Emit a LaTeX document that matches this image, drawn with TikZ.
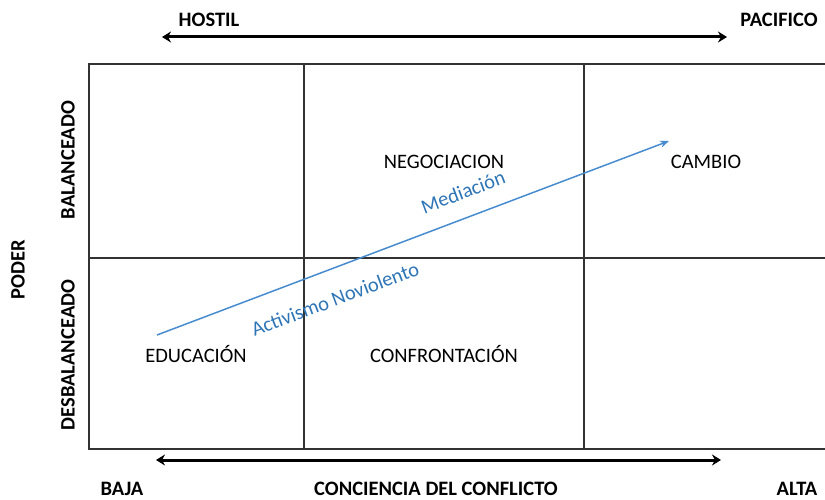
\documentclass[tikz,border=0pt]{standalone}
\usepackage{fontspec}
\setmainfont{Carlito}
\usetikzlibrary{arrows.meta}
\definecolor{bluearr}{RGB}{72,140,208}
\definecolor{bluetxt}{RGB}{46,117,182}
\definecolor{gridc}{RGB}{50,50,50}
\begin{document}
\begin{tikzpicture}[x=1pt,y=-1pt,
  gridline/.style={draw=gridc,line width=1.1pt},
  axisarrow/.style={line width=3pt,{Stealth[length=9pt,width=11pt]}-{Stealth[length=9pt,width=11pt]}},
  quad/.style={font=\fontsize{20.5}{22}\selectfont},
  axlabel/.style={font=\fontsize{20.5}{22}\selectfont\bfseries,inner sep=0pt},
  bluelabel/.style={font=\fontsize{20.5}{22}\selectfont,text=bluetxt,rotate=20.7,inner sep=0pt}]
\useasboundingbox (0,0) rectangle (825,500);
% grid
\coordinate (tl) at (89,64);
\coordinate (tr) at (826,64);
\coordinate (ml) at (89,258);
\coordinate (mr) at (826,258);
\coordinate (bl) at (89,449);
\coordinate (br) at (826,449);
\coordinate (v1t) at (304,64);
\coordinate (v1b) at (304,449);
\coordinate (v2t) at (584,64);
\coordinate (v2b) at (584,449);
\draw[gridline] (tr) -- (tl) -- (bl) -- (br);
\draw[gridline] (ml) -- (mr);
\draw[gridline] (v1t) -- (v1b);
\draw[gridline] (v2t) -- (v2b);
% top axis
\coordinate (ta1) at (162,37);
\coordinate (ta2) at (727,37);
\draw[axisarrow] (ta1) -- (ta2);
\node[axlabel] (hostil) at (209,20) {HOSTIL};
\node[axlabel] (pacifico) at (779,20) {PACIFICO};
% bottom axis
\coordinate (ba1) at (156,460);
\coordinate (ba2) at (721,460);
\draw[axisarrow] (ba1) -- (ba2);
\node[axlabel] (baja) at (122,489) {BAJA};
\node[axlabel] (conc) at (436,489) {CONCIENCIA DEL CONFLICTO};
\node[axlabel] (alta) at (797,489) {ALTA};
% left labels
\node[axlabel,rotate=90] (poder) at (18,270) {PODER};
\node[axlabel,rotate=90] (bal) at (68,160) {BALANCEADO};
\node[axlabel,rotate=90] (desbal) at (68,355) {DESBALANCEADO};
% quadrant labels
\node[quad] (neg) at (444,162) {NEGOCIACION};
\node[quad] (cambio) at (706,162) {CAMBIO};
\node[quad] (edu) at (196,354) {EDUCACIÓN};
\node[quad] (conf) at (444,354) {CONFRONTACIÓN};
% blue arrow
\coordinate (s) at (157,335);
\coordinate (e) at (669,141);
\draw[draw=bluearr,line width=1.5pt,-{Stealth[length=9pt,width=7pt]}] (s) -- (e);
\node[bluelabel] (med) at (463,192) {Mediación};
\node[bluelabel] (act) at (335,299) {Activismo Noviolento};
\end{tikzpicture}
\end{document}
